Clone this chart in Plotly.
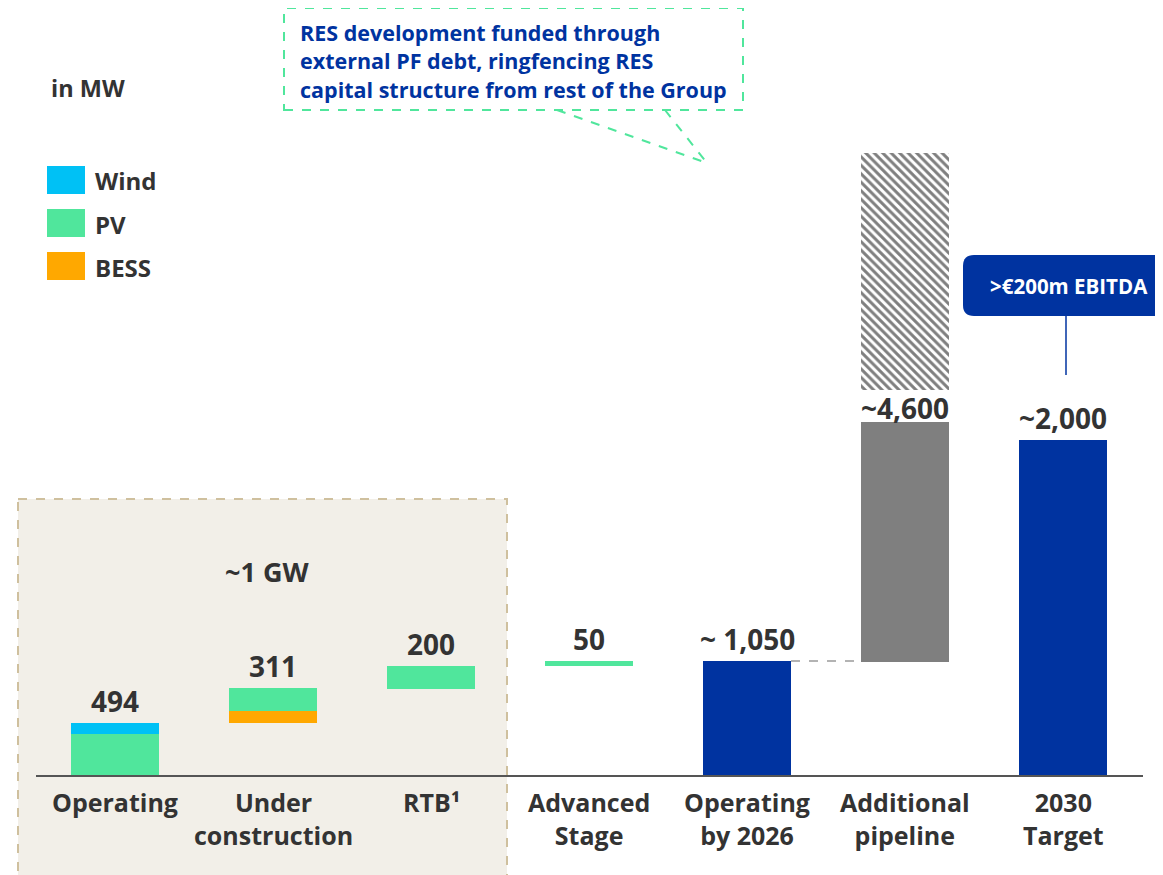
import plotly.graph_objects as go

# categories and labels
categories = ["Operating", "Under<br>construction", "RTB¹", "Advanced<br>Stage",
              "Operating<br>by 2026", "Additional<br>pipeline", "2030<br>Target"]
value_labels = ["494", "311", "200", "50", "~ 1,050", "~4,600", "~2,000"]

# bar segments (the chart is not drawn to scale, heights)
wind_x = [0]
wind_base = [42]
wind_h = [11]

pv_x = [0, 1, 2, 3]
pv_base = [0, 65, 87, 110]
pv_h = [42, 23, 23, 5]

bess_x = [1]
bess_base = [53]
bess_h = [12]

total_x = [4, 6]
total_base = [0, 0]
total_h = [115, 336]

pipe_x = [5]
pipe_base = [114]
pipe_h = [240]

upside_x = [5]
upside_base = [386]
upside_h = [237]

legend_items = ["Wind", "PV", "BESS"]

WIND = "#00C1F5"
PV = "#50E69C"
BESS = "#FFA800"
BLUE = "#0033A0"
GREY = "#7F7F7F"
TXT = "#333333"
FONT = "Open Sans"

# page has an 8px body margin, so the figure is drawn 8px smaller and offset
OFF = 8
W, H = 1163 - OFF, 875 - OFF
BOTTOM = 99
PLOT_H = H - BOTTOM


def px(x):
    return (x - OFF) / W


def py(y):
    return (PLOT_H - (y - OFF)) / PLOT_H


fig = go.Figure()
bw = 88 / 158


def add_bars(x, base, h, color, name, pattern=None):
    fig.add_trace(go.Bar(x=x, y=h, base=base, width=bw, name=name,
                         marker=dict(color=color, line=dict(width=0), pattern=pattern),
                         showlegend=False, hoverinfo="skip"))


add_bars(pv_x, pv_base, pv_h, PV, "PV")
add_bars(wind_x, wind_base, wind_h, WIND, "Wind")
add_bars(bess_x, bess_base, bess_h, BESS, "BESS")
add_bars(total_x, total_base, total_h, BLUE, "Total")
add_bars(pipe_x, pipe_base, pipe_h, GREY, "Pipeline")
add_bars(upside_x, upside_base, upside_h, "white", "Upside",
         pattern=dict(shape="\\", fgcolor="#000000", bgcolor="white", size=6, solidity=0.5))

# top of each column, used for the value labels
tops = [0] * len(categories)
for xs, bs, hs in [(wind_x, wind_base, wind_h), (pv_x, pv_base, pv_h), (bess_x, bess_base, bess_h),
                   (total_x, total_base, total_h), (pipe_x, pipe_base, pipe_h)]:
    for x, b, h in zip(xs, bs, hs):
        tops[x] = max(tops[x], b + h)

annotations = []
for i, lab in enumerate(value_labels):
    annotations.append(dict(x=i, y=tops[i] + (14 if i == 5 else 22), xref="x", yref="y",
                            text=lab, showarrow=False, xanchor="center", yanchor="middle",
                            font=dict(family=FONT, size=28, color=TXT, weight=700)))

for i, cat in enumerate(categories):
    annotations.append(dict(x=i, y=py(783), xref="x", yref="paper", text=cat, showarrow=False,
                            xanchor="center", yanchor="top", align="center",
                            font=dict(family=FONT, size=25, color=TXT, weight=700)))

shapes = []
# beige "~1 GW" box
shapes.append(dict(type="rect", xref="paper", yref="paper", x0=px(18), x1=px(507), y0=py(499), y1=py(880),
                   fillcolor="#F2EFE8", line=dict(color="#CFC09E", width=2, dash="dash"), layer="below"))
annotations.append(dict(x=px(267), y=py(571), xref="paper", yref="paper", text="~1 GW", showarrow=False,
                        xanchor="center", yanchor="middle",
                        font=dict(family=FONT, size=27, color=TXT, weight=700)))

# baseline
shapes.append(dict(type="line", xref="paper", yref="paper", x0=px(36), x1=px(1143), y0=py(776), y1=py(776),
                   line=dict(color="#555555", width=2)))

# connector between operating 2026 and pipeline
shapes.append(dict(type="line", xref="x", yref="y", x0=4 + bw / 2, x1=5 - bw / 2, y0=total_h[0], y1=total_h[0],
                   line=dict(color="#9A9A9A", width=1.5, dash="dash")))

# units + legend
annotations.append(dict(x=px(49), y=py(88), xref="paper", yref="paper", text="in MW", showarrow=False,
                        xanchor="left", yanchor="middle",
                        font=dict(family=FONT, size=23.5, color=TXT, weight=700)))
for k, (name, col) in enumerate(zip(legend_items, [WIND, PV, BESS])):
    yc = 180 + 43 * k
    shapes.append(dict(type="rect", xref="paper", yref="paper", x0=px(47), x1=px(85),
                       y0=py(yc - 14), y1=py(yc + 14), fillcolor=col, line=dict(width=0)))
    annotations.append(dict(x=px(93), y=py(yc + 1), xref="paper", yref="paper", text=name, showarrow=False,
                            xanchor="left", yanchor="middle",
                            font=dict(family=FONT, size=24, color=TXT, weight=700)))

# callout box
shapes.append(dict(type="rect", xref="paper", yref="paper", x0=px(284), x1=px(743), y0=py(110), y1=py(8),
                   fillcolor="white", line=dict(color=PV, width=2, dash="dash")))
for xa in [557, 665]:
    shapes.append(dict(type="line", xref="paper", yref="paper", x0=px(xa), x1=px(707), y0=py(110), y1=py(163),
                       line=dict(color=PV, width=2, dash="dash")))
callout = ["RES development funded through", "external PF debt, ringfencing RES",
           "capital structure from rest of the Group"]
for k, line in enumerate(callout):
    annotations.append(dict(x=px(298), y=py(32 + 28.5 * k), xref="paper", yref="paper", text=line,
                            showarrow=False, xanchor="left", yanchor="middle",
                            font=dict(family=FONT, size=21.5, color=BLUE, weight=700)))


# EBITDA badge
def rounded_rect(x0, y0, x1, y1, r):
    return (f"M {px(x0 + r)} {py(y0)} L {px(x1)} {py(y0)} L {px(x1)} {py(y1)} L {px(x0 + r)} {py(y1)} "
            f"Q {px(x0)} {py(y1)} {px(x0)} {py(y1 - r)} L {px(x0)} {py(y0 + r)} "
            f"Q {px(x0)} {py(y0)} {px(x0 + r)} {py(y0)} Z")


shapes.append(dict(type="path", xref="paper", yref="paper", path=rounded_rect(963, 255, 1170, 316, 11),
                   fillcolor=BLUE, line=dict(width=0)))
shapes.append(dict(type="line", xref="paper", yref="paper", x0=px(1066), x1=px(1066), y0=py(316), y1=py(375),
                   line=dict(color=BLUE, width=1.5)))
annotations.append(dict(x=px(1069), y=py(286), xref="paper", yref="paper", text=">€200m EBITDA",
                        showarrow=False, xanchor="center", yanchor="middle",
                        font=dict(family=FONT, size=20.5, color="white", weight=700)))

fig.update_layout(
    width=W, height=H,
    margin=dict(l=0, r=0, t=0, b=BOTTOM),
    paper_bgcolor="white", plot_bgcolor="rgba(0,0,0,0)",
    barmode="overlay",
    xaxis=dict(range=[-(115 - OFF) / 158, (W - (115 - OFF)) / 158], showgrid=False, zeroline=False,
               showline=False, showticklabels=False, ticks=""),
    yaxis=dict(range=[0, PLOT_H], visible=False),
    shapes=shapes, annotations=annotations,
)

fig.write_html("out.html")
